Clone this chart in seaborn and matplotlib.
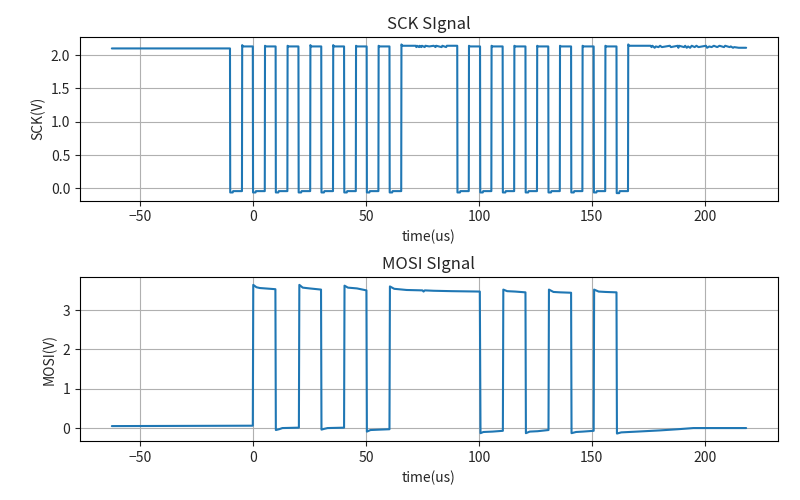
import matplotlib
matplotlib.use("Agg")
import matplotlib.pyplot as plt
import seaborn as sns

# ---------------- data ----------------
# SCK signal: time (us) and voltage (V)
sck_t = [
    -62.5, -10.2,
    -10.1, -9.0, -8.8, -4.9, -4.8, -4.5, -0.1,
    0.0, 1.1, 1.3, 5.2, 5.3, 5.6, 10.0,
    10.1, 11.2, 11.4, 15.2, 15.3, 15.6, 20.1,
    20.2, 21.3, 21.5, 25.3, 25.4, 25.7, 30.2,
    30.3, 31.4, 31.6, 35.4, 35.5, 35.8, 40.3,
    40.4, 41.5, 41.7, 45.5, 45.6, 45.9, 50.3,
    50.4, 51.5, 51.7, 55.5, 55.6, 55.9, 60.4,
    60.5, 61.6, 61.8, 65.6, 65.7, 66.0,
    72.0, 72.3, 72.6, 73.5, 73.8, 74.5, 74.8, 76.0, 76.3, 78.0, 80.0,
    80.8, 81.1, 83.5, 83.8, 85.5, 85.8, 90.4,
    90.5, 91.6, 91.8, 95.5, 95.6, 95.9, 100.5,
    100.6, 101.7, 101.9, 105.5, 105.6, 105.9, 110.5,
    110.6, 111.7, 111.9, 115.6, 115.7, 116.0, 120.6,
    120.7, 121.8, 122.0, 125.7, 125.8, 126.1, 130.7,
    130.8, 131.9, 132.1, 135.8, 135.9, 136.2, 140.8,
    140.9, 142.0, 142.2, 145.8, 145.9, 146.2, 150.8,
    150.9, 152.0, 152.2, 155.9, 156.0, 156.3, 160.9,
    161.0, 162.1, 162.3, 166.0, 166.1, 166.5,
    176.0, 176.4, 176.8, 177.8, 178.3, 179.5, 180.2, 181.0, 184.5, 185.0,
    188.0, 188.3, 188.6, 190.8, 191.3, 192.0, 192.6, 193.5, 194.2, 195.5,
    196.3, 197.2, 200.5, 201.0, 202.0, 203.0, 204.0, 205.5, 206.5, 208.5,
    209.0, 211.0, 211.5, 212.5, 213.0, 215.0, 218.3,
]
sck_v = [
    2.10, 2.10,
    -0.06, -0.06, -0.04, -0.04, 2.15, 2.13, 2.13,
    -0.06, -0.06, -0.04, -0.04, 2.14, 2.13, 2.13,
    -0.06, -0.06, -0.04, -0.04, 2.14, 2.13, 2.13,
    -0.06, -0.06, -0.04, -0.04, 2.15, 2.13, 2.13,
    -0.06, -0.06, -0.04, -0.04, 2.15, 2.13, 2.13,
    -0.06, -0.06, -0.04, -0.04, 2.14, 2.13, 2.13,
    -0.06, -0.06, -0.04, -0.04, 2.14, 2.13, 2.13,
    -0.06, -0.06, -0.04, -0.04, 2.16, 2.14,
    2.14, 2.12, 2.14, 2.12, 2.14, 2.12, 2.14, 2.12, 2.14, 2.13, 2.14,
    2.12, 2.14, 2.12, 2.14, 2.12, 2.14, 2.14,
    -0.06, -0.06, -0.04, -0.04, 2.14, 2.13, 2.13,
    -0.06, -0.06, -0.04, -0.04, 2.14, 2.13, 2.13,
    -0.06, -0.06, -0.04, -0.04, 2.14, 2.13, 2.13,
    -0.06, -0.06, -0.04, -0.04, 2.14, 2.13, 2.13,
    -0.06, -0.06, -0.04, -0.04, 2.14, 2.13, 2.13,
    -0.06, -0.06, -0.04, -0.04, 2.14, 2.13, 2.13,
    -0.06, -0.06, -0.04, -0.04, 2.14, 2.13, 2.13,
    -0.07, -0.07, -0.04, -0.04, 2.16, 2.14,
    2.14, 2.12, 2.14, 2.11, 2.13, 2.12, 2.14, 2.12, 2.14, 2.12,
    2.14, 2.11, 2.14, 2.12, 2.14, 2.11, 2.13, 2.11, 2.14, 2.12,
    2.14, 2.12, 2.14, 2.11, 2.13, 2.12, 2.14, 2.12, 2.14, 2.12,
    2.14, 2.12, 2.13, 2.11, 2.12, 2.11, 2.11,
]

# MOSI signal: time (us) and voltage (V)
mosi_t = [
    -62.5, -0.1,
    0.1, 1.5, 3.0, 9.9,
    10.1, 11.5, 13.0, 20.3,
    20.5, 22.0, 25.0, 30.1,
    30.3, 31.5, 33.0, 40.3,
    40.5, 42.0, 46.0, 50.2,
    50.4, 52.0, 56.0, 60.4,
    60.6, 62.5, 68.0, 75.0, 75.5, 76.0, 80.0, 88.0, 100.4,
    100.7, 102.0, 106.0, 110.6,
    110.8, 112.5, 116.0, 120.6,
    120.8, 122.5, 126.0, 130.8,
    131.0, 133.0, 136.0, 140.8,
    141.0, 143.0, 146.0, 150.8,
    151.0, 153.0, 156.0, 160.9,
    161.1, 163.0, 170.0, 180.0, 188.0, 195.0, 218.3,
]
mosi_v = [
    0.05, 0.06,
    3.64, 3.58, 3.56, 3.53,
    -0.05, -0.03, 0.00, 0.01,
    3.64, 3.57, 3.55, 3.52,
    -0.04, -0.02, 0.00, 0.01,
    3.62, 3.57, 3.55, 3.50,
    -0.09, -0.05, -0.04, -0.03,
    3.60, 3.54, 3.51, 3.50, 3.47, 3.50, 3.49, 3.48, 3.47,
    -0.13, -0.10, -0.09, -0.07,
    3.52, 3.48, 3.47, 3.45,
    -0.13, -0.09, -0.08, -0.05,
    3.52, 3.46, 3.45, 3.44,
    -0.13, -0.10, -0.09, -0.07,
    3.52, 3.47, 3.46, 3.45,
    -0.14, -0.11, -0.09, -0.06, -0.03, 0.00, 0.00,
]

titles = ["SCK SIgnal", "MOSI SIgnal"]
ylabels = ["SCK(V)", "MOSI(V)"]
xlabel = "time(us)"

# ---------------- plotting ----------------
sns.set_style("ticks")
plt.rcParams["font.family"] = ["Noto Sans CJK SC", "DejaVu Sans"]
plt.rcParams["axes.unicode_minus"] = True

fig, axes = plt.subplots(2, 1, figsize=(8, 5), dpi=100)
fig.subplots_adjust(left=0.1, right=0.9725, top=0.926, bottom=0.118, hspace=0.47)

series = [(sck_t, sck_v), (mosi_t, mosi_v)]
for ax, (t, v), title, ylab in zip(axes, series, titles, ylabels):
    sns.lineplot(x=t, y=v, ax=ax, sort=False, estimator=None,
                 color="#1f77b4", linewidth=1.5)
    ax.set_title(title, fontsize=12)
    ax.set_xlabel(xlabel, fontsize=10)
    ax.set_ylabel(ylab, fontsize=10)
    ax.grid(True, color="#b0b0b0", linewidth=0.8)
    ax.set_axisbelow(True)
    for s in ax.spines.values():
        s.set_visible(True)
        s.set_color("black")
        s.set_linewidth(0.8)
    ax.tick_params(labelsize=10, direction="out", length=3.5, width=0.8)

axes[0].set_xlim(-76.6, 232.4)
axes[1].set_xlim(-76.6, 232.4)

fig.savefig("out.png", dpi=100)
